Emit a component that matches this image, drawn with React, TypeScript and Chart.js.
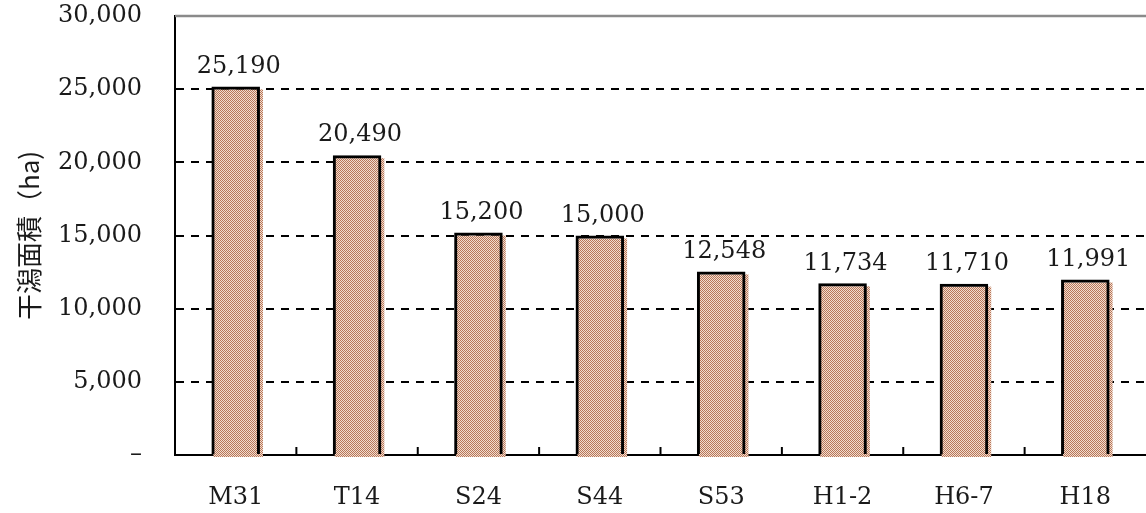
import React, { useEffect, useRef } from "react";
import { Chart, registerables } from "chart.js";

Chart.register(...registerables);

const categories = ["M31", "T14", "S24", "S44", "S53", "H1-2", "H6-7", "H18"];
const areaValues = [25190, 20490, 15200, 15000, 12548, 11734, 11710, 11991];
const yTickValues = [0, 5000, 10000, 15000, 20000, 25000, 30000];
const yAxisTitle = "干潟面積（ha)";

const FONT = "'DejaVu Serif', 'Liberation Serif', serif";
const TEXT = "#1a1a1a";

function makePattern(): CanvasPattern | string {
  const c = document.createElement("canvas");
  c.width = 2;
  c.height = 2;
  const g = c.getContext("2d");
  if (!g) return "#d29880";
  g.fillStyle = "#f2ddcf";
  g.fillRect(0, 0, 2, 2);
  g.fillStyle = "#b8775a";
  g.fillRect(0, 0, 1, 1);
  g.fillRect(1, 1, 1, 1);
  const p = g.createPattern(c, "repeat");
  return p || "#d29880";
}

export default function App() {
  const ref = useRef<HTMLCanvasElement | null>(null);

  useEffect(() => {
    if (!ref.current) return;
    const pattern = makePattern();

    const shadowFill = {
      id: "shadowFill",
      beforeDatasetsDraw(chart: any) {
        const ctx = chart.ctx;
        const meta = chart.getDatasetMeta(0);
        ctx.save();
        ctx.fillStyle = pattern;
        meta.data.forEach((bar: any) => {
          const { x, y, base, width } = bar.getProps(["x", "y", "base", "width"], true);
          const left = x - width / 2 + 2;
          ctx.fillRect(left, y + 3, width + 1, base - y);
        });
        ctx.restore();
      },
    };

    const extras = {
      id: "extras",
      beforeDatasetsDraw(chart: any) {
        const ctx = chart.ctx;
        const xs = chart.scales.x;
        const ys = chart.scales.y;
        const area = chart.chartArea;
        ctx.save();
        const yTop = ys.getPixelForValue(30000);
        ctx.strokeStyle = "#8a8a8a";
        ctx.lineWidth = 2.5;
        ctx.beginPath();
        ctx.moveTo(area.left, yTop);
        ctx.lineTo(area.right, yTop);
        ctx.stroke();
        ctx.strokeStyle = "#000";
        ctx.lineWidth = 2;
        const yb = ys.getPixelForValue(0);
        for (let i = 1; i < categories.length; i++) {
          const xm = (xs.getPixelForTick(i - 1) + xs.getPixelForTick(i)) / 2;
          ctx.beginPath();
          ctx.moveTo(xm, yb);
          ctx.lineTo(xm, yb - 8);
          ctx.stroke();
        }
        ctx.restore();
      },
      afterDatasetsDraw(chart: any) {
        const ctx = chart.ctx;
        const meta = chart.getDatasetMeta(0);
        ctx.save();
        ctx.font = `24px ${FONT}`;
        ctx.fillStyle = TEXT;
        ctx.textAlign = "center";
        ctx.textBaseline = "bottom";
        meta.data.forEach((bar: any, i: number) => {
          const { x, y } = bar.getProps(["x", "y"], true);
          ctx.fillText(areaValues[i].toLocaleString("en-US"), x + 3, y - 8);
        });
        ctx.restore();
      },
    };

    const chart = new Chart(ref.current, {
      type: "bar",
      data: {
        labels: categories,
        datasets: [
          {
            data: areaValues,
            backgroundColor: "rgba(0,0,0,0)",
            borderColor: "#000",
            borderWidth: 3,
            borderSkipped: "bottom",
            barPercentage: 0.4,
            categoryPercentage: 1,
          },
        ],
      },
      options: {
        animation: false,
        responsive: true,
        maintainAspectRatio: false,
        layout: { padding: { top: 16, left: 0, right: 0, bottom: 0 } },
        plugins: {
          legend: { display: false },
          tooltip: { enabled: false },
        },
        scales: {
          x: {
            offset: true,
            grid: { display: false, drawTicks: false },
            border: { display: true, color: "#000", width: 2 },
            ticks: {
              padding: 28,
              color: TEXT,
              font: { family: FONT, size: 24 },
              maxRotation: 0,
              autoSkip: false,
            },
            afterFit: (s: any) => {
              s.height = 58;
              s.paddingLeft = 0;
              s.paddingRight = 0;
            },
          },
          y: {
            min: 0,
            max: 30000,
            afterBuildTicks: (s: any) => {
              s.ticks = yTickValues.map((v) => ({ value: v }));
            },
            grid: {
              drawTicks: false,
              lineWidth: 2,
              color: (ctx: any) =>
                ctx.tick && (ctx.tick.value === 0 || ctx.tick.value === 30000)
                  ? "rgba(0,0,0,0)"
                  : "#000",
            },
            border: { display: true, color: "#000", width: 2, dash: [8, 7] },
            ticks: {
              padding: 33,
              color: TEXT,
              font: { family: FONT, size: 24 },
              callback: (v: any) => (Number(v) === 0 ? "–" : Number(v).toLocaleString("en-US")),
            },
            title: {
              display: true,
              text: yAxisTitle,
              color: TEXT,
              font: { family: "'Noto Sans CJK JP', sans-serif", size: 26 },
              padding: { top: 14, bottom: 0 },
            },
            afterFit: (s: any) => {
              s.width = 175;
              s.paddingTop = 0;
              s.paddingBottom = 0;
            },
          },
        },
      },
      plugins: [shadowFill, extras],
    });

    return () => chart.destroy();
  }, []);

  return (
    <div style={{ position: "absolute", left: 0, top: 0, width: 1146, height: 513, background: "#fff" }}>
      <canvas ref={ref} />
    </div>
  );
}
